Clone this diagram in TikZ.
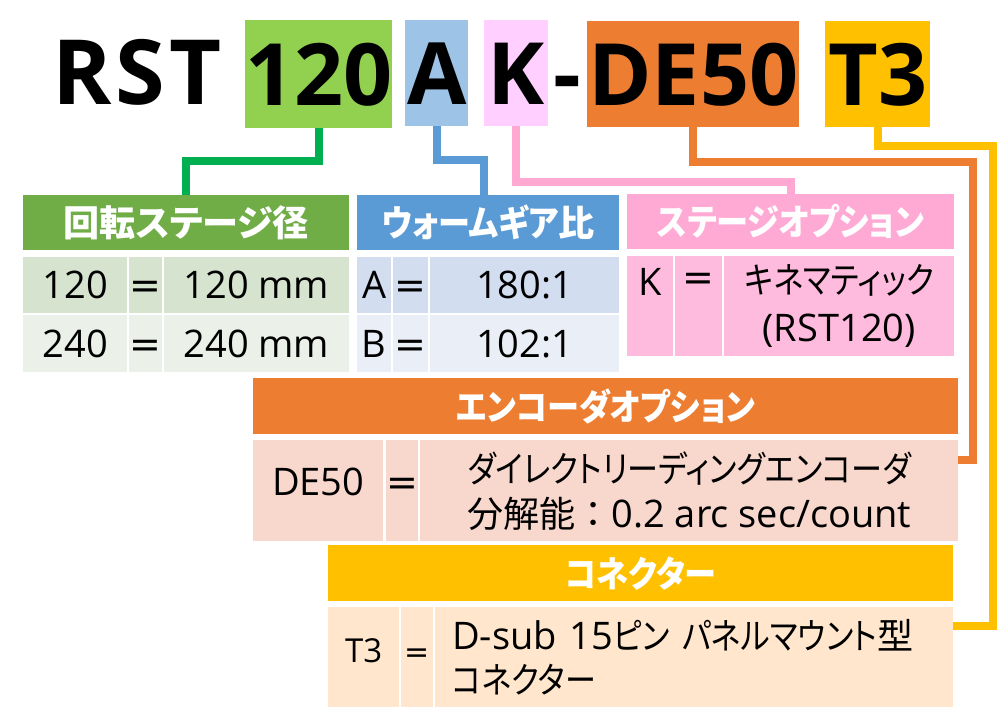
\documentclass[tikz,border=0pt]{standalone}
\usepackage{fontspec}
\setmainfont{Open Sans}
\newfontfamily\jpfont[Scale=0.95,RawFeature=+palt]{Noto Sans CJK JP}
\newfontfamily\jpwide[Scale=0.95]{Noto Sans CJK JP}
\newfontfamily\knfont[Scale=0.95,RawFeature=+palt,FakeStretch=0.86]{Noto Sans CJK JP}
\newfontfamily\knhead[Scale=0.95,RawFeature=+palt,FakeStretch=0.89]{Noto Sans CJK JP}
\newfontfamily\eqfont{DejaVu Sans}
\newcommand\eqsign{{\eqfont =}}
\definecolor{titleGreen}{HTML}{92D050}
\definecolor{titleBlue}{HTML}{9DC3E6}
\definecolor{titlePink}{HTML}{FFD0FF}
\definecolor{titleOrange}{HTML}{ED7D31}
\definecolor{titleYellow}{HTML}{FFC000}
\definecolor{lineGreen}{HTML}{00B050}
\definecolor{lineBlue}{HTML}{5B9BD5}
\definecolor{linePink}{HTML}{FFA8D2}
\definecolor{headGreen}{HTML}{70AD47}
\definecolor{rowGreenA}{HTML}{D5E3CF}
\definecolor{rowGreenB}{HTML}{EBF1E9}
\definecolor{headBlue}{HTML}{5B9BD5}
\definecolor{rowBlueA}{HTML}{D2DEEF}
\definecolor{rowBlueB}{HTML}{EAEFF7}
\definecolor{headPink}{HTML}{FFAAD4}
\definecolor{rowPink}{HTML}{FFBBDD}
\definecolor{rowOrange}{HTML}{F8D7CD}
\definecolor{rowYellow}{HTML}{FFE6CC}
\begin{document}
\begin{tikzpicture}
        [x=1pt, y=-1pt,
        title/.style={inner sep=0pt, anchor=north west, minimum height=106pt, text height=62pt, text depth=0pt, font=\fontsize{86}{86}\selectfont\bfseries},
        plain/.style={inner sep=0pt, anchor=base, font=\fontsize{90}{90}\selectfont\bfseries},
        head/.style={inner sep=0pt, anchor=north west, minimum height=55pt, text=white, font=\fontsize{38}{40}\selectfont\jpfont\bfseries},
        cell/.style={inner sep=0pt, anchor=north west, minimum height=56pt, align=center, font=\fontsize{38}{46}\selectfont},
        one/.style={text height=27pt, text depth=0pt},
        link/.style={line width=8pt}]
        \useasboundingbox (0,0) rectangle (997,725);

        % model code
        \node[plain] (RST) at (137,105) {R\kern4pt S\kern4pt T};
        \node[title, fill=titleGreen, minimum width=146pt, minimum height=108pt] (N120) at (245,20) {120};
        \node[title, fill=titleBlue, minimum width=63pt] (NA) at (405,20) {A};
        \node[title, fill=titlePink, minimum width=64pt] (NK) at (484,20) {K};
        \node[plain, font=\fontsize{86}{86}\selectfont\bfseries] (Dash) at (567,105) {-};
        \node[title, fill=titleOrange, minimum width=212pt] (NDE) at (587,21) {DE50};
        \node[title, fill=titleYellow, minimum width=105pt] (NT) at (825,21) {T3};

        % stage diameter
        \node[head, fill=headGreen, minimum width=326pt] (HG) at (23,195) {回転ステージ径};
        \node[cell, one, fill=rowGreenA, minimum width=104pt] (G11) at (23,257) {120};
        \node[cell, one, fill=rowGreenA, minimum width=33pt] (G12) at (129,257) {\eqsign};
        \node[cell, one, fill=rowGreenA, minimum width=185.5pt] (G13) at (163.5,257) {120 mm};
        \node[cell, one, fill=rowGreenB, minimum width=104pt, minimum height=57pt] (G21) at (23,315) {240};
        \node[cell, one, fill=rowGreenB, minimum width=33pt, minimum height=57pt] (G22) at (129,315) {\eqsign};
        \node[cell, one, fill=rowGreenB, minimum width=185.5pt, minimum height=57pt] (G23) at (163.5,315) {240 mm};

        % worm gear ratio
        \node[head, fill=headBlue, minimum width=262pt] (HB) at (357,195) {{\knhead\bfseries ウォームギア}比};
        \node[cell, one, fill=rowBlueA, minimum width=34pt] (B11) at (357,257) {A};
        \node[cell, one, fill=rowBlueA, minimum width=35pt] (B12) at (393,257) {\eqsign};
        \node[cell, one, fill=rowBlueA, minimum width=189pt] (B13) at (430,257) {180:1};
        \node[cell, one, fill=rowBlueB, minimum width=34pt, minimum height=57pt] (B21) at (357,315) {B};
        \node[cell, one, fill=rowBlueB, minimum width=35pt, minimum height=57pt] (B22) at (393,315) {\eqsign};
        \node[cell, one, fill=rowBlueB, minimum width=189pt, minimum height=57pt] (B23) at (430,315) {102:1};

        % stage option
        \node[head, fill=headPink, minimum width=327pt, font=\fontsize{38}{40}\selectfont\knhead\bfseries] (HP) at (627,194) {ステージオプション};
        \node[cell, fill=rowPink, minimum width=46pt, minimum height=100pt, font=\fontsize{38}{48}\selectfont] (P1) at (627,256) {K\\~};
        \node[cell, fill=rowPink, minimum width=47pt, minimum height=100pt, font=\fontsize{38}{48}\selectfont] (P2) at (675,256) {\eqsign\\~};
        \node[cell, fill=rowPink, minimum width=230pt, minimum height=100pt, font=\fontsize{38}{48}\selectfont] (P3) at (724,256) {{\knfont キネマティック}\\(RST120)};

        % encoder option
        \node[head, fill=titleOrange, minimum width=705pt, minimum height=56pt, font=\fontsize{38}{40}\selectfont\knhead\bfseries] (HE) at (253,378) {エンコーダオプション};
        \node[cell, fill=rowOrange, minimum width=130pt, minimum height=101pt, text height=27pt, text depth=18pt] (E1) at (253,440) {DE50};
        \node[cell, fill=rowOrange, minimum width=32.5pt, minimum height=101pt, text height=27pt, text depth=18pt] (E2) at (385.5,440) {\eqsign};
        \node[cell, fill=rowOrange, minimum width=538pt, minimum height=101pt, font=\fontsize{38}{45}\selectfont] (E3) at (420,440) {{\knfont ダイレクトリーディングエンコーダ}\\{\jpwide 分解能：}0.2 arc sec/count};

        % connector
        \node[head, fill=titleYellow, minimum width=625pt, minimum height=56pt, font=\fontsize{38}{40}\selectfont\knhead\bfseries] (HC) at (328,545) {コネクター};
        \node[cell, fill=rowYellow, minimum width=71pt, minimum height=100pt, text height=24pt, text depth=14pt, font=\fontsize{33}{40}\selectfont] (C1) at (328,607) {T3};
        \node[cell, fill=rowYellow, minimum width=32pt, minimum height=100pt, text height=24pt, text depth=14pt, font=\fontsize{30}{40}\selectfont] (C2) at (401,607) {\eqsign};
        \node[cell, fill=rowYellow, minimum height=100pt, inner xsep=17pt, text width=484pt, align=left, font=\fontsize{38}{44}\selectfont] (C3) at (435,607) {D-sub 15{\knfont ピン パネルマウント}{\jpfont 型}\\{\knfont コネクター}};

        \coordinate (RailE) at (972.5,162);
        \coordinate (RailC) at (992.5,146);

        \draw[link, lineGreen] (N120.south) -- ++(0,33) -| (HG.north);
        \draw[link, lineBlue] (NA.south) -- ++(0,34) -| ([xshift=-4pt]HB.north);
        \draw[link, linePink] (NK.south) -- ++(0,56) -| (HP.north);
        \draw[link, titleOrange] (NDE.south) |- (RailE) |- ([yshift=30.5pt]E3.east);
        \draw[link, titleYellow] (NT.south) |- (RailC) |- ([yshift=31pt]C3.east);
    \end{tikzpicture}
\end{document}
